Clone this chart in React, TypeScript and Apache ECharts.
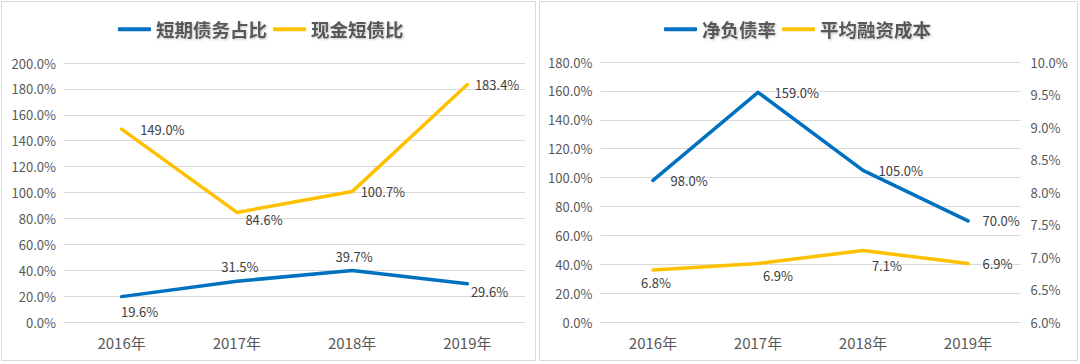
import React, { useEffect, useRef } from "react";
import * as echarts from "echarts";

const years = ["2016年", "2017年", "2018年", "2019年"];
const shortDebtRatio = [19.6, 31.5, 39.7, 29.6];
const cashShortDebt = [149.0, 84.6, 100.7, 183.4];
const netDebtRatio = [98.0, 159.0, 105.0, 70.0];
const financingCost = [6.8, 6.9, 7.1, 6.9];

const BLUE = "#0070C0";
const YELLOW = "#FFC000";
const GRID = "#D9D9D9";
const AXIS_TEXT = "#595959";
const LABEL_TEXT = "#404040";
const FONT = "'Noto Sans CJK SC', 'Noto Sans', sans-serif";

// label placement styles per point
const shortDebtLabels = [
  { position: "bottom", offset: [18, 3] },
  { position: "top", offset: [3, -3] },
  { position: "top", offset: [2, -2] },
  { position: "right", distance: 3, offset: [0, 8] },
];
const cashLabels = [
  { position: "right", distance: 18, offset: [0, 0] },
  { position: "right", distance: 8, offset: [0, 7] },
  { position: "right", distance: 8, offset: [0, 0] },
  { position: "right", distance: 7, offset: [0, 0] },
];
const netDebtLabels = [
  { position: "right", distance: 17, offset: [0, 0] },
  { position: "right", distance: 16, offset: [0, 0] },
  { position: "right", distance: 15, offset: [0, 0] },
  { position: "right", distance: 14, offset: [0, 0] },
];
const costLabels = [
  { position: "bottom", offset: [3, 0] },
  { position: "bottom", offset: [20, 0] },
  { position: "bottom", offset: [24, 3] },
  { position: "right", distance: 14, offset: [0, 0] },
];

const pct1 = (v: number) => `${v.toFixed(1)}%`;

function withLabels(values: number[], places: any[]) {
  return values.map((v, i) => ({
    value: v,
    label: {
      show: true,
      position: places[i].position,
      distance: places[i].distance ?? 5,
      offset: places[i].offset,
      formatter: (p: any) => pct1(p.value),
      color: LABEL_TEXT,
      fontSize: 13,
      fontFamily: FONT,
    },
  }));
}

function lineSeries(name: string, color: string, data: any[], xAxisIndex: number, yAxisIndex: number) {
  return {
    name,
    type: "line",
    xAxisIndex,
    yAxisIndex,
    data,
    symbol: "circle",
    symbolSize: 1,
    showSymbol: true,
    itemStyle: { color },
    lineStyle: { color, width: 3.5, cap: "round", join: "round" },
    emphasis: { disabled: true },
    z: 3,
  };
}

const legendCommon = {
  top: 20,
  padding: 0,
  icon: "roundRect",
  itemWidth: 33,
  itemHeight: 4,
  itemGap: 6,
  textStyle: {
    fontSize: 18.5,
    fontWeight: "bold",
    color: AXIS_TEXT,
    fontFamily: FONT,
    textShadowColor: "rgba(0,0,0,0.25)",
    textShadowBlur: 2,
    textShadowOffsetX: 1,
    textShadowOffsetY: 1,
  },
};

const xAxisCommon = {
  type: "category",
  data: years,
  boundaryGap: true,
  axisLine: { show: true, lineStyle: { color: GRID } },
  axisTick: { show: false },
  axisLabel: { color: AXIS_TEXT, fontSize: 15, fontFamily: FONT, margin: 13 },
};

const yLabelStyle = { color: AXIS_TEXT, fontSize: 13, fontFamily: FONT };

export default function App() {
  const ref = useRef<HTMLDivElement>(null);
  useEffect(() => {
    if (!ref.current) return;
    const chart = echarts.init(ref.current, null, { renderer: "svg" });
    chart.setOption({
      animation: false,
      backgroundColor: "#ffffff",
      graphic: [
        { type: "rect", shape: { x: 1.5, y: 1.5, width: 534, height: 359 }, style: { fill: "none", stroke: GRID, lineWidth: 1 }, silent: true },
        { type: "rect", shape: { x: 539.5, y: 1.5, width: 538, height: 359 }, style: { fill: "none", stroke: GRID, lineWidth: 1 }, silent: true },
      ],
      legend: [
        { ...legendCommon, left: 118, data: ["短期债务占比", "现金短债比"] },
        { ...legendCommon, left: 664, data: ["净负债率", "平均融资成本"] },
      ],
      grid: [
        { left: 64, right: 555, top: 63, bottom: 42 },
        { left: 600.5, right: 59.5, top: 62, bottom: 42 },
      ],
      xAxis: [
        { ...xAxisCommon, gridIndex: 0 },
        { ...xAxisCommon, gridIndex: 1 },
      ],
      yAxis: [
        {
          type: "value", gridIndex: 0, min: 0, max: 200, interval: 20,
          axisLine: { show: false }, axisTick: { show: false },
          axisLabel: { ...yLabelStyle, margin: 8, formatter: pct1 },
          splitLine: { lineStyle: { color: GRID, width: 1 } },
        },
        {
          type: "value", gridIndex: 1, min: 0, max: 180, interval: 20,
          axisLine: { show: false }, axisTick: { show: false },
          axisLabel: { ...yLabelStyle, margin: 8, formatter: pct1 },
          splitLine: { lineStyle: { color: GRID, width: 1 } },
        },
        {
          type: "value", gridIndex: 1, position: "right", min: 6, max: 10, interval: 0.5,
          axisLine: { show: false }, axisTick: { show: false },
          axisLabel: { ...yLabelStyle, margin: 10, formatter: pct1 },
          splitLine: { show: false },
        },
      ],
      series: [
        lineSeries("短期债务占比", BLUE, withLabels(shortDebtRatio, shortDebtLabels), 0, 0),
        lineSeries("现金短债比", YELLOW, withLabels(cashShortDebt, cashLabels), 0, 0),
        lineSeries("净负债率", BLUE, withLabels(netDebtRatio, netDebtLabels), 1, 1),
        lineSeries("平均融资成本", YELLOW, withLabels(financingCost, costLabels), 1, 2),
      ],
    });
    return () => chart.dispose();
  }, []);
  return (
    <div
      ref={ref}
      style={{ position: "fixed", left: 0, top: 0, width: 1080, height: 364 }}
    />
  );
}
